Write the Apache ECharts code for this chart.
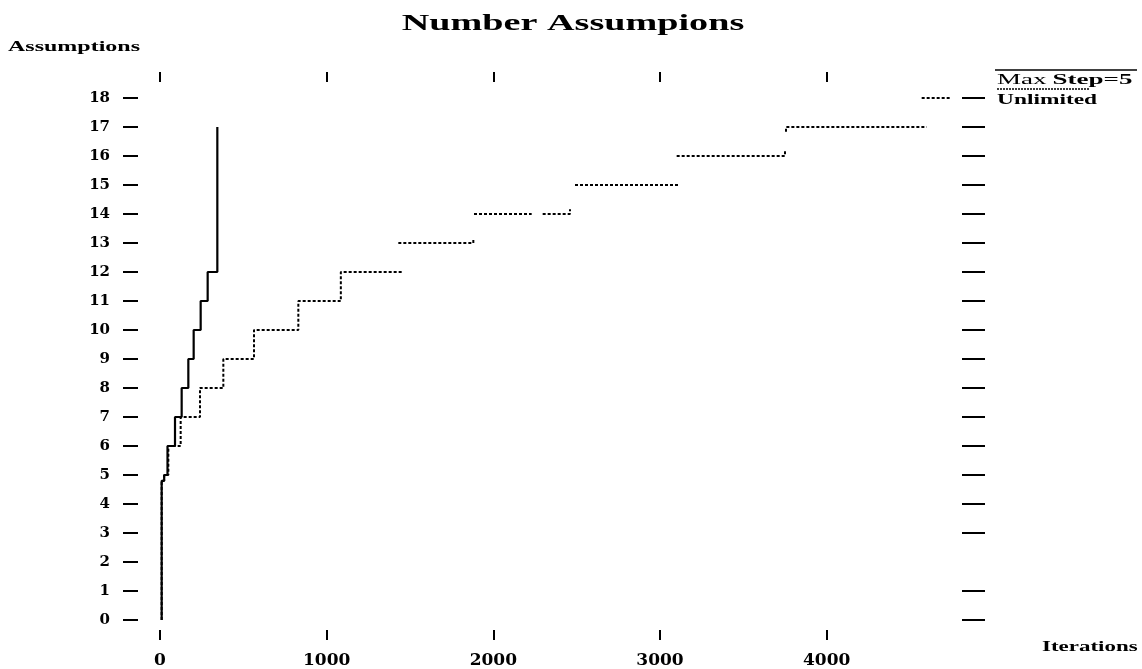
<!DOCTYPE html>
<html>
<head>
<meta charset="utf-8">
<script src="https://cdn.jsdelivr.net/npm/echarts@6/dist/echarts.min.js"></script>
<style>
  html, body { margin: 0; padding: 0; background: #fff; }
  #chart { width: 1142px; height: 669px; }
</style>
</head>
<body>
<div id="chart"></div>
<script>
// Max Step=5 run: iteration / assumption count pairs (step path)
const maxStepIter   = [10, 10, 25, 25, 45, 45, 90, 90, 130, 130, 170, 170, 202, 202, 244, 244, 286, 286, 344, 344];
const maxStepAssump = [0, 4.8, 4.8, 5, 5, 6, 6, 7, 7, 8, 8, 9, 9, 10, 10, 11, 11, 12, 12, 17];

// Unlimited run: null marks where the pen lifts
const unlimitedIter = [10, 10, 25, 25, 50, 50, 124, 124, 240, 240, 380, 380, 564, 564, 830, 830, 1085, 1085, 1460,
  null, 1430, 1880, 1880,
  null, 1884, 2230,
  null, 2296, 2460, 2460,
  null, 2490, 3110,
  null, 3100, 3750, 3750,
  null, 3756, 3756, 4600,
  null, 4570, 4750];
const unlimitedAssump = [0, 4.8, 4.8, 5, 5, 6, 6, 7, 7, 8, 8, 9, 9, 10, 10, 11, 11, 12, 12,
  null, 13, 13, 13.16,
  null, 14, 14,
  null, 14, 14, 14.16,
  null, 15, 15,
  null, 16, 16, 16.2,
  null, 16.84, 17, 17,
  null, 18, 18];

const xTickValues = [0, 1000, 2000, 3000, 4000];
const xTickLabels = ['0', '1000', '2000', '3000', '4000'];
const yTickValues = [0, 1, 2, 3, 4, 5, 6, 7, 8, 9, 10, 11, 12, 13, 14, 15, 16, 17, 18];
const rightTickValues = [0, 1, 3, 4, 5, 6, 7, 8, 9, 10, 11, 12, 13, 14, 15, 16, 17, 18];

function toPoints(xs, ys) {
  return xs.map((x, i) => (x === null || ys[i] === null) ? ['-', '-'] : [x, ys[i]]);
}

const font = (s, w) => (w || 'bold') + ' ' + s + 'px "Liberation Serif", "Times New Roman", serif';

const chart = echarts.init(document.getElementById('chart'), null, { renderer: 'canvas' });

const tickLabelStyle = {
  fontFamily: '"DejaVu Serif", serif',
  fontWeight: 'bold',
  color: '#000'
};
const hiddenLine = { show: false, onZero: false };

chart.setOption({
  animation: false,
  backgroundColor: '#fff',
  grid: { left: 160, right: 182, top: 98, bottom: 49, containLabel: false },
  xAxis: [
    {
      type: 'value', position: 'bottom', offset: 10,
      min: 0, max: 4800, interval: 1000,
      axisLine: hiddenLine,
      axisTick: { show: true, length: 10, customValues: xTickValues, lineStyle: { color: '#000', width: 2 } },
      axisLabel: {
        show: true, margin: 22, fontSize: 17, customValues: xTickValues,
        formatter: v => xTickLabels[xTickValues.indexOf(v)] ?? String(v),
        ...tickLabelStyle
      },
      splitLine: { show: false }
    },
    {
      type: 'value', position: 'top', offset: 16,
      min: 0, max: 4800, interval: 1000,
      axisLine: hiddenLine,
      axisTick: { show: true, length: 10, customValues: xTickValues, lineStyle: { color: '#000', width: 2 } },
      axisLabel: { show: false },
      splitLine: { show: false }
    }
  ],
  yAxis: [
    {
      type: 'value', position: 'left', offset: 22,
      min: 0, max: 18, interval: 1,
      axisLine: hiddenLine,
      axisTick: { show: true, length: 15, customValues: yTickValues, lineStyle: { color: '#000', width: 2 } },
      axisLabel: { show: true, margin: 28, fontSize: 15, customValues: yTickValues, ...tickLabelStyle },
      splitLine: { show: false }
    },
    {
      type: 'value', position: 'right', offset: 2,
      min: 0, max: 18, interval: 1,
      axisLine: hiddenLine,
      axisTick: { show: true, length: 23, customValues: rightTickValues, lineStyle: { color: '#000', width: 2 } },
      axisLabel: { show: false },
      splitLine: { show: false }
    }
  ],
  series: [
    {
      name: 'Unlimited', type: 'line', xAxisIndex: 0, yAxisIndex: 0,
      data: toPoints(unlimitedIter, unlimitedAssump),
      showSymbol: false, symbol: 'none', connectNulls: false,
      lineStyle: { color: '#000', width: 2, type: [3, 2] }
    },
    {
      name: 'Max Step=5', type: 'line', xAxisIndex: 0, yAxisIndex: 0,
      data: toPoints(maxStepIter, maxStepAssump),
      showSymbol: false, symbol: 'none',
      lineStyle: { color: '#000', width: 2.2, type: 'solid' }
    }
  ],
  graphic: [
    // chart title
    { type: 'text', x: 573, y: 24, scaleX: 1.59,
      style: { text: 'Number Assumpions', font: font(24), fill: '#000', align: 'center', verticalAlign: 'middle' } },
    // axis names
    { type: 'text', x: 8, y: 47, scaleX: 1.6,
      style: { text: 'Assumptions', font: font(15), fill: '#000', align: 'left', verticalAlign: 'middle' } },
    { type: 'text', x: 1042, y: 647, scaleX: 1.53,
      style: { text: 'Iterations', font: font(15), fill: '#000', align: 'left', verticalAlign: 'middle' } },
    // legend: line sample above each label
    { type: 'line', shape: { x1: 995, y1: 70, x2: 1137, y2: 70 },
      style: { stroke: '#000', lineWidth: 1.3 } },
    { type: 'text', x: 997, y: 80, scaleX: 1.8,
      style: {
        text: '{r|Max} {b|Step=5}', fill: '#000', verticalAlign: 'middle', align: 'left',
        rich: {
          r: { font: font(15, 'normal'), fill: '#000' },
          b: { font: font(15), fill: '#000' }
        }
      } },
    { type: 'line', shape: { x1: 997, y1: 89, x2: 1089, y2: 89 },
      style: { stroke: '#000', lineWidth: 1.3, lineDash: [2, 1] } },
    { type: 'text', x: 997, y: 100, scaleX: 1.56,
      style: { text: 'Unlimited', font: font(15), fill: '#000', align: 'left', verticalAlign: 'middle' } }
  ]
});
</script>
</body>
</html>
